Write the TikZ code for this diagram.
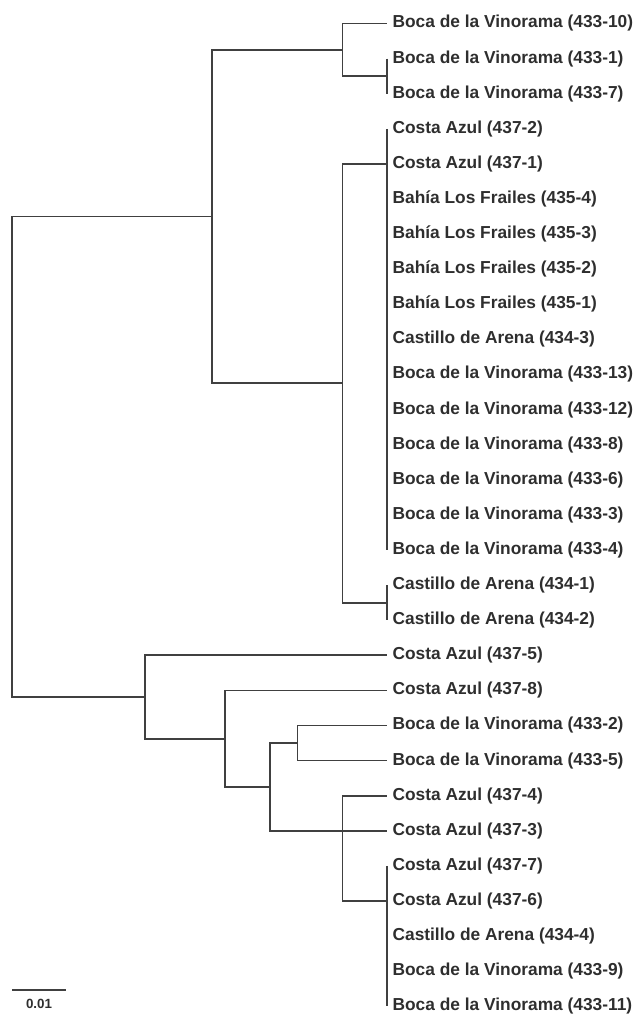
\documentclass[tikz,border=0pt]{standalone}
\usepackage{fontspec}
\setmainfont{Liberation Sans}
\usepackage{xcolor}
\definecolor{treegray}{HTML}{404040}
\definecolor{labelgray}{HTML}{2E2E2E}

\begin{document}
\begin{tikzpicture}[
    x=0.75pt, y=-0.75pt,
    every node/.style={
        font=\bfseries\fontsize{13}{15}\selectfont,
        text=labelgray,
        inner sep=0pt
    },
    leaf/.style={anchor=west, inner xsep=4pt},
    branch/.style={draw=treegray, line width=1.3pt}
]

\useasboundingbox (0,0) rectangle (638,1020);

% Leaves
\node[leaf] (l1)  at (387,23.5)  {Boca de la Vinorama (433-10)};
\node[leaf] (l2)  at (387,58.6)  {Boca de la Vinorama (433-1)};
\node[leaf] (l3)  at (387,93.7)  {Boca de la Vinorama (433-7)};
\node[leaf] (l4)  at (387,128.8) {Costa Azul (437-2)};
\node[leaf] (l5)  at (387,163.9) {Costa Azul (437-1)};
\node[leaf] (l6)  at (387,199.0) {Bahía Los Frailes (435-4)};
\node[leaf] (l7)  at (387,234.1) {Bahía Los Frailes (435-3)};
\node[leaf] (l8)  at (387,269.2) {Bahía Los Frailes (435-2)};
\node[leaf] (l9)  at (387,304.3) {Bahía Los Frailes (435-1)};
\node[leaf] (l10) at (387,339.4) {Castillo de Arena (434-3)};
\node[leaf] (l11) at (387,374.5) {Boca de la Vinorama (433-13)};
\node[leaf] (l12) at (387,409.6) {Boca de la Vinorama (433-12)};
\node[leaf] (l13) at (387,444.7) {Boca de la Vinorama (433-8)};
\node[leaf] (l14) at (387,479.8) {Boca de la Vinorama (433-6)};
\node[leaf] (l15) at (387,514.9) {Boca de la Vinorama (433-3)};
\node[leaf] (l16) at (387,550.0) {Boca de la Vinorama (433-4)};
\node[leaf] (l17) at (387,585.1) {Castillo de Arena (434-1)};
\node[leaf] (l18) at (387,620.2) {Castillo de Arena (434-2)};
\node[leaf] (l19) at (387,655.3) {Costa Azul (437-5)};
\node[leaf] (l20) at (387,690.4) {Costa Azul (437-8)};
\node[leaf] (l21) at (387,725.5) {Boca de la Vinorama (433-2)};
\node[leaf] (l22) at (387,760.6) {Boca de la Vinorama (433-5)};
\node[leaf] (l23) at (387,795.7) {Costa Azul (437-4)};
\node[leaf] (l24) at (387,830.8) {Costa Azul (437-3)};
\node[leaf] (l25) at (387,865.9) {Costa Azul (437-7)};
\node[leaf] (l26) at (387,901.0) {Costa Azul (437-6)};
\node[leaf] (l27) at (387,936.1) {Castillo de Arena (434-4)};
\node[leaf] (l28) at (387,971.2) {Boca de la Vinorama (433-9)};
\node[leaf] (l29) at (387,1006.3) {Boca de la Vinorama (433-11)};

% Inner nodes
\coordinate (root)  at (12,456.75);
\coordinate (nTop)  at (211.7,216.5);
\coordinate (nA)    at (342.5,49.8);
\coordinate (n23)   at (387,76.15);
\coordinate (nB)    at (342.5,383.3);
\coordinate (p1)    at (387,163.9);
\coordinate (n1718) at (387,602.65);
\coordinate (nBot)  at (144.7,697);
\coordinate (n225)  at (224.7,738.7);
\coordinate (n271)  at (270.3,786.9);
\coordinate (n299)  at (297.5,743.05);
\coordinate (nC)    at (342.5,830.8);
\coordinate (n25)   at (387,901.0);

% Connections
\draw[branch] (root) |- (nTop);
\draw[branch] (root) |- (nBot);

\draw[branch] (nTop) |- (nA);
\draw[branch] (nTop) |- (nB);
\draw[branch] (nA) |- (l1.west);
\draw[branch] (nA) |- (n23);
\draw[branch] (l2.west) -- (l3.west);
\draw[branch] (nB) |- (p1);
\draw[branch] (nB) |- (n1718);
\draw[branch] (l4.west) -- (l16.west);
\draw[branch] (l17.west) -- (l18.west);

\draw[branch] (nBot) |- (l19.west);
\draw[branch] (nBot) |- (n225);
\draw[branch] (n225) |- (l20.west);
\draw[branch] (n225) |- (n271);
\draw[branch] (n271) |- (n299);
\draw[branch] (n271) |- (l24.west);
\draw[branch] (n299) |- (l21.west);
\draw[branch] (n299) |- (l22.west);
\draw[branch] (nC) |- (l23.west);
\draw[branch] (nC) |- (n25);
\draw[branch] (l25.west) -- (l29.west);

% Scale bar
\coordinate (s0) at (12,990);
\coordinate (s1) at (66,990);
\draw[branch] (s0) -- (s1);
\node[font=\bfseries\fontsize{10}{12}\selectfont] (scale) at (39,1003.5) {0.01};

\end{tikzpicture}
\end{document}
